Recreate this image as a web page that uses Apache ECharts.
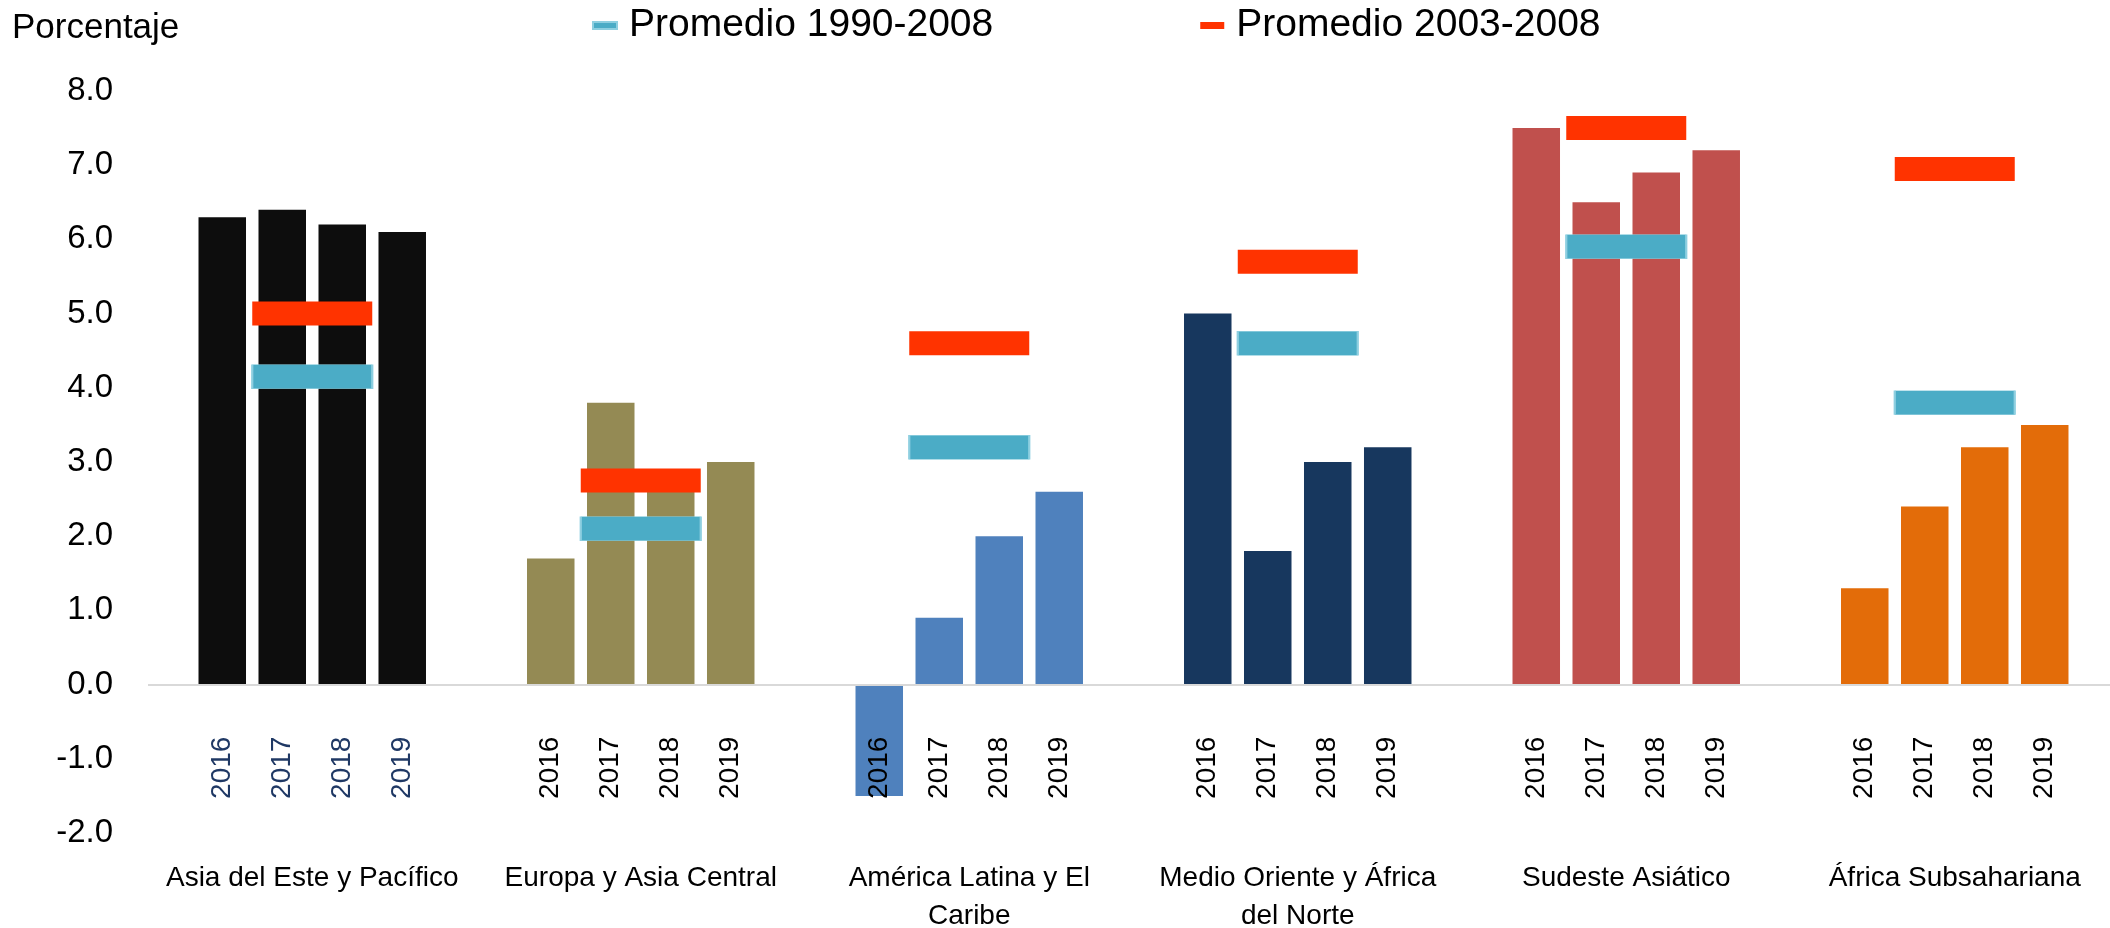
<!DOCTYPE html>
<html>
<head>
<meta charset="utf-8">
<script src="https://cdn.jsdelivr.net/npm/echarts@6/dist/echarts.min.js"></script>
<style>
  html, body { margin: 0; padding: 0; background: #fff; }
  #wrap { width: 2110px; height: 928px; }
</style>
</head>
<body>
<div id="wrap"></div>
<script>
// regions on the x axis (line breaks as in the original)
var regions = ['Asia del Este y Pacífico', 'Europa y Asia Central', 'América Latina y El\nCaribe',
    'Medio Oriente y África\ndel Norte', 'Sudeste Asiático', 'África Subsahariana'];
var regionColors = ['#0D0D0D', '#948A54', '#4F81BD', '#17375E', '#C0504D', '#E36C09'];

// growth per year, one value per region
var years = ['2016', '2017', '2018', '2019'];
var y2016 = [6.3, 1.7, -1.5, 5.0, 7.5, 1.3];
var y2017 = [6.4, 3.8, 0.9, 1.8, 6.5, 2.4];
var y2018 = [6.2, 2.7, 2.0, 3.0, 6.9, 3.2];
var y2019 = [6.1, 3.0, 2.6, 3.2, 7.2, 3.5];

// historical averages
var avg9008 = [4.15, 2.1, 3.2, 4.6, 5.9, 3.8];
var avg0308 = [5.0, 2.75, 4.6, 5.7, 7.5, 6.95];

var yTicks = { min: -2, max: 8, step: 1 };

var font = 'Liberation Sans';
var yearValues = [y2016, y2017, y2018, y2019];

var series = [];
years.forEach(function(yr, k) {
    var data = yearValues[k].map(function(v, i) {
        var item = { value: v, label: { color: i === 0 ? '#1F3864' : '#000' } };
        if (v < 0) {
            item.label.position = 'insideTop';
        }
        return item;
    });
    var s = {
        name: yr,
        type: 'bar',
        colorBy: 'data',
        barWidth: 47.5,
        barGap: '26.3%',
        data: data,
        label: {
            show: true,
            position: 'bottom',
            distance: 52,
            rotate: 90,
            align: 'right',
            verticalAlign: 'middle',
            formatter: '{a}',
            fontFamily: font,
            fontSize: 28
        }
    };
    if (k === 0) {
        s.markLine = {
            silent: true,
            symbol: 'none',
            label: { show: false },
            lineStyle: { color: '#D9D9D9', width: 2, type: 'solid' },
            data: [{ yAxis: 0 }]
        };
    }
    series.push(s);
});

function avgSeries(name, vals, color, border) {
    return {
        name: name,
        type: 'scatter',
        symbol: 'rect',
        symbolSize: [120, 24],
        z: 5,
        itemStyle: { color: color, borderColor: border, borderWidth: border ? 1 : 0, opacity: 1 },
        data: vals.map(function(v, i) { return [i, v]; })
    };
}
series.push(avgSeries('Promedio 1990-2008', avg9008, '#4BACC6', '#8ECFE0'));
series.push(avgSeries('Promedio 2003-2008', avg0308, '#FF3300', null));

var myChart = echarts.init(document.getElementById('wrap'));
var option = {
    animation: false,
    backgroundColor: '#fff',
    color: regionColors,
    title: {
        text: 'Porcentaje',
        left: 12,
        top: 11,
        padding: 0,
        textStyle: { fontFamily: font, fontSize: 35, fontWeight: 'normal', color: '#000' }
    },
    legend: {
        data: ['Promedio 1990-2008', 'Promedio 2003-2008'],
        left: 592,
        top: 6,
        padding: 0,
        icon: 'rect',
        itemWidth: 24,
        itemHeight: 7,
        itemGap: 207,
        textStyle: { fontFamily: font, fontSize: 39, color: '#000', padding: [0, 0, 0, 7] }
    },
    grid: { left: 148, right: -9, top: 91, bottom: 95, containLabel: false, outerBoundsMode: 'none' },
    xAxis: {
        type: 'category',
        data: regions,
        axisLine: { show: false, onZero: false },
        axisTick: { show: false },
        axisLabel: {
            margin: 26,
            interval: 0,
            fontFamily: font,
            fontSize: 28,
            color: '#000',
            lineHeight: 38
        }
    },
    yAxis: {
        type: 'value',
        min: yTicks.min,
        max: yTicks.max,
        interval: yTicks.step,
        splitLine: { show: false },
        axisLine: { show: false },
        axisTick: { show: false },
        axisLabel: {
            margin: 35,
            fontFamily: font,
            fontSize: 33,
            color: '#000',
            formatter: function(v) { return v.toFixed(1); }
        }
    },
    series: series
};
myChart.setOption(option);
</script>
</body>
</html>
